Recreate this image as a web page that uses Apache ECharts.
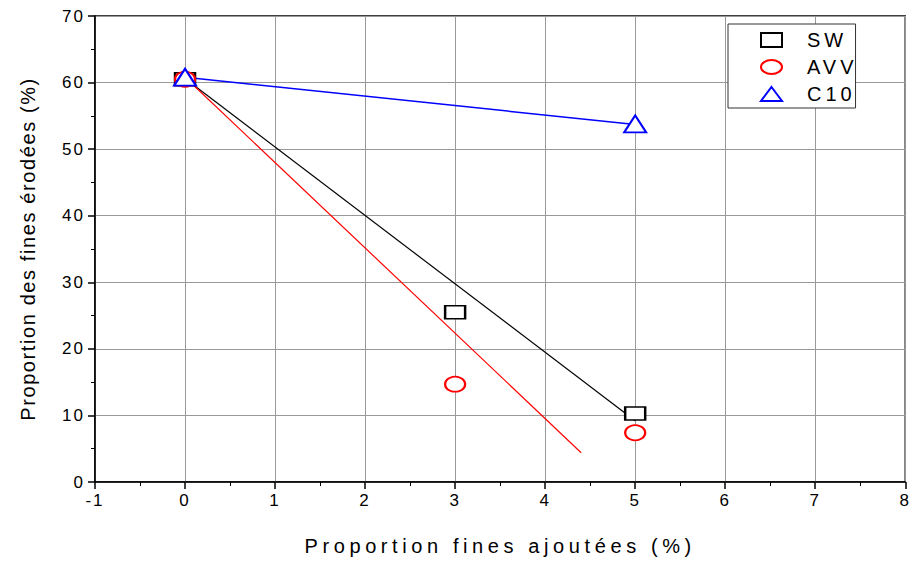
<!DOCTYPE html>
<html><head><meta charset="utf-8">
<script src="https://cdn.jsdelivr.net/npm/echarts@6/dist/echarts.min.js"></script>
<style>html,body{margin:0;padding:0;background:#fff}#c{width:913px;height:561px}</style>
</head><body><div id="c"></div>
<script>
// Data
const xTicks = [-1,0,1,2,3,4,5,6,7,8];
const swPoints = [[0,60.5],[3,25.5],[5,10.3]];
const avvPoints = [[0,60.5],[3,14.7],[5,7.4]];
const c10Points = [[0,60.8],[5,53.8]];
const swFit = [[0,60.6],[5,9.2]];
const avvFit = [[0,60.8],[4.4,4.4]];
const c10Fit = [[0,60.8],[5,53.7]];

const chart = echarts.init(document.getElementById('c'), null, {renderer:'svg'});
const font = 'Liberation Sans, Arial, sans-serif';
function scatter(name, data, symbol, color, size){
  return {name, type:'scatter', data, symbol, symbolSize:size, z:5,
    itemStyle:{color:'#fff', borderColor:color, borderWidth:2, opacity:1}};
}
function fit(data, color, w){
  return {type:'line', data, symbol:'none', silent:true, z:3,
    lineStyle:{color, width:w}};
}
chart.setOption({
  animation:false,
  backgroundColor:'#fff',
  grid:{left:95, right:5, top:16, bottom:78.5, show:true, borderColor:'#000', borderWidth:1.5, backgroundColor:'transparent'},
  xAxis:{type:'value', min:-1, max:8, interval:1,
    name:'Proportion fines ajoutées (%)', nameLocation:'middle', nameGap:54,
    nameTextStyle:{fontFamily:font, fontSize:20, color:'#000'},
    axisLine:{show:true, onZero:false, lineStyle:{color:'#000', width:1.5}},
    axisTick:{show:true, inside:false, length:7, lineStyle:{color:'#000', width:1.5}},
    minorTick:{show:true, splitNumber:2, length:4, lineStyle:{color:'#000', width:1}},
    axisLabel:{fontFamily:font, fontSize:17, color:'#000', margin:10,
      formatter: v => xTicks.includes(v) ? String(v) : ''},
    splitLine:{show:true, lineStyle:{color:'#999', width:1}}
  },
  yAxis:{type:'value', min:0, max:70, interval:10,
    name:'Proportion des fines érodées (%)', nameLocation:'middle', nameGap:57,
    nameTextStyle:{fontFamily:font, fontSize:20, color:'#000'},
    axisLine:{show:true, onZero:false, lineStyle:{color:'#000', width:1.5}},
    axisTick:{show:true, inside:false, length:7, lineStyle:{color:'#000', width:1.5}},
    minorTick:{show:true, splitNumber:2, length:4, lineStyle:{color:'#000', width:1}},
    axisLabel:{fontFamily:font, fontSize:17, color:'#000', margin:10},
    splitLine:{show:true, lineStyle:{color:'#999', width:1}}
  },
  legend:{left:728, top:24, width:143, orient:'vertical', padding:[6,10,4,32],
    backgroundColor:'#fff', borderColor:'#333', borderWidth:1, itemGap:7, itemWidth:21, itemHeight:14,
    symbolKeepAspect:false,
    textStyle:{fontFamily:font, fontSize:20, color:'#000', padding:[0,0,0,20]},
    data:['SW', {name:'AVV', icon:'path://M0,7 A10,7 0 1,0 20,7 A10,7 0 1,0 0,7 Z'}, 'C10']},
  series:[
    fit(swFit,'#000',1.2),
    fit(avvFit,'#f00',1.2),
    fit(c10Fit,'#00f',1.5),
    scatter('SW', swPoints, 'rect', '#000', [20,13]),
    scatter('AVV', avvPoints, 'circle', '#f00', [20,15]),
    scatter('C10', c10Points, 'triangle', '#00f', [22,17])
  ]
});
function spaceText(){
  document.querySelectorAll('#c svg text').forEach(t => {
    const s = t.textContent;
    let ls = '2px';
    if (s.indexOf('ajoutées') >= 0) ls = '4.6px';
    else if (s.indexOf('érodées') >= 0) ls = '1.6px';
    else if (s === 'SW' || s === 'AVV' || s === 'C10') ls = '4px';
    t.setAttribute('letter-spacing', ls);
    t.style.letterSpacing = ls;
  });
}
spaceText();
chart.on('finished', spaceText);
setTimeout(spaceText, 50);
</script></body></html>
